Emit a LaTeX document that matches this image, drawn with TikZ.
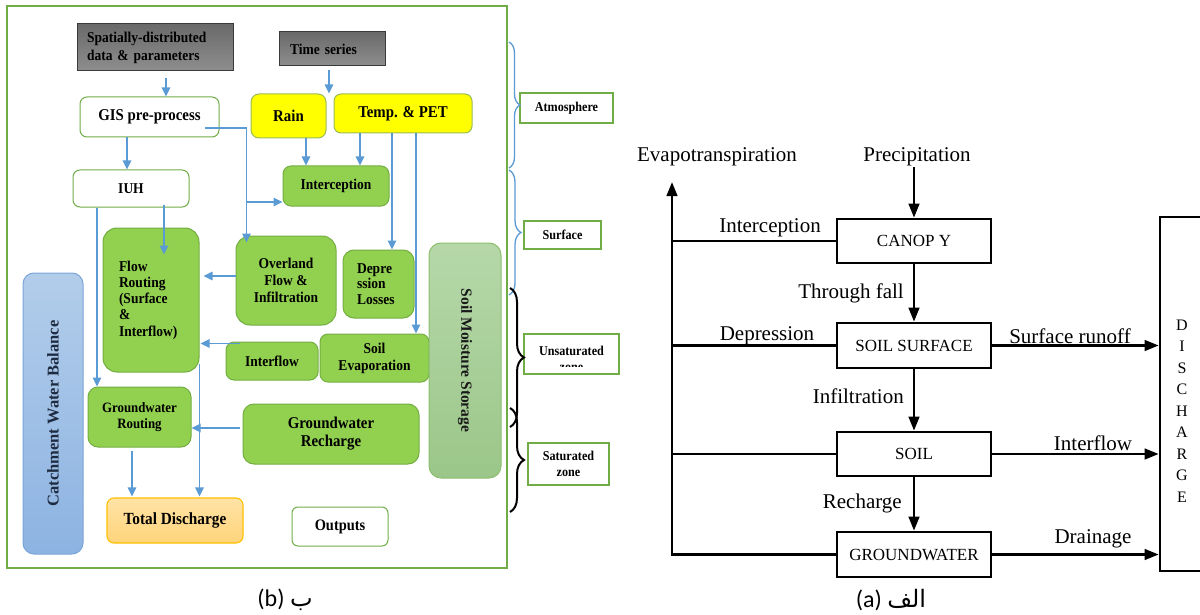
\documentclass[tikz,border=0pt]{standalone}
\usepackage{fontspec}
\setmainfont{Liberation Serif}
\newfontfamily\lf[FakeStretch=0.9]{Liberation Serif}
\newfontfamily\lfr{Liberation Serif}
\newfontfamily\arabicfont[Script=Arabic]{DejaVu Sans}
\newfontfamily\capfont{Carlito}
\TeXXeTstate=1
\usetikzlibrary{arrows.meta,decorations.pathreplacing,calc}
\definecolor{arrblue}{HTML}{5B9BD5}
\definecolor{gfill}{HTML}{92D050}
\definecolor{gdraw}{HTML}{74AE42}
\definecolor{frameg}{HTML}{70AD47}
\definecolor{ylw}{HTML}{FFFF00}
\definecolor{ydraw}{HTML}{9BBB59}
\definecolor{grtop}{HTML}{6A6A6A}
\definecolor{grbot}{HTML}{8E8E8E}
\definecolor{grdraw}{HTML}{3A3A3A}
\definecolor{smstop}{HTML}{B6D8A9}
\definecolor{smsbot}{HTML}{9BC689}
\definecolor{smsdraw}{HTML}{8CBF6E}
\definecolor{cwbtop}{HTML}{B2CDEA}
\definecolor{cwbbot}{HTML}{8DB3E2}
\definecolor{cwbdraw}{HTML}{7AA5D8}
\definecolor{cwbtext}{HTML}{1F2B40}
\definecolor{ortop}{HTML}{FFE3A6}
\definecolor{orbot}{HTML}{FFD47A}
\definecolor{ordraw}{HTML}{FFC000}
\begin{document}
\begin{tikzpicture}[x=1pt,y=-1pt,
  base/.style={inner sep=0pt, align=center, text=black},
  gbox/.style={base, draw=gdraw, fill=gfill, line width=1pt, rounded corners=8pt, font=\lf\bfseries\fontsize{15}{17}\selectfont},
  wbox/.style={base, draw=frameg, fill=white, line width=1pt, rounded corners=7pt},
  ybox/.style={base, draw=ydraw, fill=ylw, line width=1pt, rounded corners=8pt},
  graybox/.style={base, draw=grdraw, top color=grtop, bottom color=grbot, line width=1pt, font=\lf\bfseries\fontsize{15}{18}\selectfont},
  zbox/.style={base, draw=frameg, fill=white, line width=1.2pt, font=\lf\bfseries\fontsize{13.5}{16}\selectfont},
  arr/.style={draw=arrblue, line width=1.6pt, -{Triangle[length=9pt,width=8.5pt]}},
  ln/.style={draw=arrblue, line width=1.6pt},
  bluebrace/.style={draw=arrblue, line width=1.3pt, decorate, decoration={brace, amplitude=#1}},
  blackbrace/.style={draw=black, line width=2pt, decorate, decoration={brace, amplitude=#1}},
  rbox/.style={draw=black, line width=2.6pt, fill=white, inner sep=0pt, font=\fontsize{17}{20}\selectfont},
  rlab/.style={inner sep=1pt, font=\fontsize{21}{24}\selectfont},
  rline/.style={draw=black, line width=2.6pt},
  rarr/.style={draw=black, line width=2.6pt, -{Triangle[length=14pt,width=10.5pt]}}
]
\clip (0,0) rectangle (1200,615);
\fill[white] (0,0) rectangle (1200,615);

% ---------------- left diagram (b) ----------------
\draw[frameg, line width=1.3pt] (7,6) rectangle (507,568);

\node[graybox, minimum width=156pt, minimum height=47pt, text width=136pt, align=left] (spat) at (155,47.5) {Spatially-distributed\\data \& parameters};
\node[graybox, minimum width=106pt, minimum height=34pt, text width=84pt, align=left] (times) at (332,49) {Time series};
\node[wbox, minimum width=139pt, minimum height=40pt, font=\lf\bfseries\fontsize{16.5}{19}\selectfont] (gis) at (149.5,117) {GIS pre-process};
\node[ybox, minimum width=75pt, minimum height=44pt, font=\lf\bfseries\fontsize{16.5}{19}\selectfont] (rain) at (288.5,116) {Rain};
\node[ybox, minimum width=138pt, minimum height=39pt, rounded corners=7pt, font=\lf\bfseries\fontsize{16.5}{19}\selectfont] (temp) at (403,113.5) {Temp. \& PET};
\node[gbox, minimum width=106pt, minimum height=40pt] (intc) at (336,186) {Interception};
\node[wbox, minimum width=116pt, minimum height=37pt, font=\lf\bfseries\fontsize{15}{17}\selectfont] (iuh) at (131,188.5) {IUH};
\node[gbox, minimum width=96pt, minimum height=144pt, text width=64pt, align=left, rounded corners=14pt, font=\lf\bfseries\fontsize{15}{16.3}\selectfont] (flow) at (151,300) {Flow\\Routing\\(Surface\\\&\\Interflow)};
\node[gbox, minimum width=100pt, minimum height=89pt, rounded corners=14pt] (over) at (286,280.5) {Overland\\Flow \&\\Infiltration};
\node[gbox, minimum width=71pt, minimum height=68pt, text width=43pt, align=left, rounded corners=11pt, font=\lf\bfseries\fontsize{15}{15.5}\selectfont] (depr) at (378.5,284) {Depre\\ssion\\Losses};
\node[gbox, minimum width=92pt, minimum height=38pt] (intf) at (272,361) {Interflow};
\node[gbox, minimum width=109pt, minimum height=48pt] (soilev) at (374.5,358) {Soil\\Evaporation};
\node[base, draw=smsdraw, top color=smstop, bottom color=smsbot, line width=1pt, rounded corners=12pt, minimum width=72pt, minimum height=235pt] (sms) at (465,360.5) {};
\node[base, rotate=-90, font=\lfr\bfseries\fontsize{15.5}{17}\selectfont, text=black!90] (smst) at (sms.center) {Soil Moisture Storage};
\node[gbox, minimum width=103pt, minimum height=60pt, rounded corners=10pt, font=\lf\bfseries\fontsize{14.3}{15.5}\selectfont] (gwr) at (139.5,417) {Groundwater\\Routing};
\node[gbox, minimum width=176pt, minimum height=60pt, rounded corners=11pt, font=\lf\bfseries\fontsize{16.5}{18}\selectfont] (gwre) at (331,434) {Groundwater\\Recharge};
\node[base, draw=ordraw, top color=ortop, bottom color=orbot, line width=1.1pt, rounded corners=7pt, minimum width=136pt, minimum height=45pt, font=\lf\bfseries\fontsize{17}{19}\selectfont] (total) at (175,520.5) {Total Discharge};
\node[wbox, minimum width=96pt, minimum height=39pt, rounded corners=6pt, font=\lf\bfseries\fontsize{16}{18}\selectfont] (outp) at (340,526.5) {Outputs};
\node[base, draw=cwbdraw, top color=cwbtop, bottom color=cwbbot, line width=1pt, rounded corners=11pt, minimum width=60pt, minimum height=281pt] (cwb) at (53,413.5) {};
\node[base, rotate=90, text=cwbtext, font=\lfr\bfseries\fontsize{16.5}{18}\selectfont] (cwbt) at (cwb.center) {Catchment Water Balance};

% zone labels
\node[zbox, minimum width=93pt, minimum height=30pt] (atm) at (566.5,108) {Atmosphere};
\node[zbox, minimum width=77pt, minimum height=28pt] (surf) at (562.5,235) {Surface};
\node[zbox, minimum width=95pt, minimum height=40pt] (unsat) at (571.5,354) {};
\begin{scope}
  \clip (526,336) rectangle (617,366.5);
  \node[base, font=\lf\bfseries\fontsize{13.5}{16}\selectfont] (unsatt) at (571.5,359) {Unsaturated\\zone};
\end{scope}
\node[zbox, minimum width=81pt, minimum height=42pt] (sat) at (568.5,464) {Saturated\\zone};

\draw[bluebrace=11pt] (509,42) -- (509,168);
\draw[bluebrace=12pt] (509,170) -- (509,295);
\draw[blackbrace=14pt] (510,288) -- (510,427);
\draw[blackbrace=14pt] (510,408) -- (510,512);

% connectors (b)
\draw[arr] (spat.south) ++(11,7) coordinate (a1) -- (a1 |- gis.north);
\draw[arr] (times.south) ++(-3,4) coordinate (a2) -- (a2 |- rain.north);
\draw[arr] (gis.south) ++(-22.5,0) coordinate (a3) -- (a3 |- iuh.north);
\draw[ln] (gis.east) ++(-15,11) coordinate (a4) -- ++(42,0) coordinate (a4b);
\draw[arr] (a4b) -- ($(a4b |- over.north)+(0,7)$);
\draw[arr] ($(a4b |- intc.west)+(0,16)$) -- ($(intc.west)+(0,16)$);
\draw[arr] (rain.south) ++(17.5,0) coordinate (a5) -- (a5 |- intc.north);
\draw[arr] (temp.south) ++(-43,0) coordinate (a6) -- (a6 |- intc.north);
\draw[arr] (temp.south) ++(-11,0) coordinate (a7) -- (a7 |- depr.north);
\draw[arr] (temp.south) ++(13,0) coordinate (a8) -- (a8 |- soilev.north);
\draw[arr] (iuh.south) ++(-34,0) coordinate (a9) -- (a9 |- gwr.north);
\draw[arr] (iuh.south) ++(33,-3) coordinate (a10) -- ($(a10 |- flow.north)+(0,27)$);
\draw[arr] (over.west) ++(0,-4.5) coordinate (a11) -- ($(a11 -| flow.east)+(4,0)$);
\draw[arr] (intf.north west) ++(14,2) coordinate (a12) -- ($(a12 -| flow.east)+(1,0)$);
\draw[arr] (gwre.west) ++(-3,-6) coordinate (a13) -- (a13 -| gwr.east);
\draw[arr] (flow.east) ++(0,64) coordinate (a14) -- ($(a14 |- total.north)+(0,-1)$);
\draw[arr] (gwr.south) ++(-7.5,3) coordinate (a15) -- ($(a15 |- total.north)+(0,-1)$);

\node[font=\fontsize{24}{27}\selectfont, inner sep=0pt] (capb) at (285,600) {\capfont(b) {\arabicfont\beginR ب\endR}};

% ---------------- right diagram (a) ----------------
\node[rbox, minimum width=154pt, minimum height=44pt] (canopy) at (914,241) {CANOP Y};
\node[rbox, minimum width=154pt, minimum height=45pt] (ss) at (914,345.5) {SOIL SURFACE};
\node[rbox, minimum width=154pt, minimum height=44pt] (soil) at (914,454) {SOIL};
\node[rbox, minimum width=154pt, minimum height=45pt] (gw) at (914,554.5) {GROUNDWATER};
\node[rbox, minimum width=44pt, minimum height=354pt] (dis) at (1182,394) {};
\node[inner sep=0pt, align=center, font=\fontsize{16}{21.5}\selectfont] (dist) at (1182,411) {D\\I\\S\\C\\H\\A\\R\\G\\E};

\node[rlab] (evap) at (717,157) {Evapotranspiration};
\node[rlab] (prec) at (917,157) {Precipitation};
\coordinate (et) at (672,182);

\draw[rarr] (gw.west) -| (et);
\draw[rline] (canopy.west) -- (canopy.west -| et);
\draw[rline] (ss.west) -- (ss.west -| et);
\draw[rline] (soil.west) -- (soil.west -| et);

\draw[rarr] (prec.south -| canopy.north) -- (canopy.north);
\draw[rarr] (canopy.south) -- (ss.north);
\draw[rarr] (ss.south) -- (soil.north);
\draw[rarr] (soil.south) -- (gw.north);
\draw[rarr] (ss.east) -- (ss.east -| dis.west);
\draw[rarr] (soil.east) -- (soil.east -| dis.west);
\draw[rarr] (gw.east) -- (gw.east -| dis.west);

\node[rlab] (lint) at (770,228) {Interception};
\node[rlab, anchor=east] (lthr) at (905,293) {Through fall};
\node[rlab] (ldep) at (767,336) {Depression};
\node[rlab] (lsr) at (1070,336) {Surface runoff};
\node[rlab, anchor=east] (linf) at (905,396) {Infiltration};
\node[rlab] (lif) at (1093,443) {Interflow};
\node[rlab, anchor=east] (lrec) at (903,503) {Recharge};
\node[rlab] (ldr) at (1093,539) {Drainage};

\node[font=\fontsize{24}{27}\selectfont, inner sep=0pt] (capa) at (891,600) {\capfont(a) {\arabicfont\beginR الف\endR}};
\end{tikzpicture}
\end{document}
